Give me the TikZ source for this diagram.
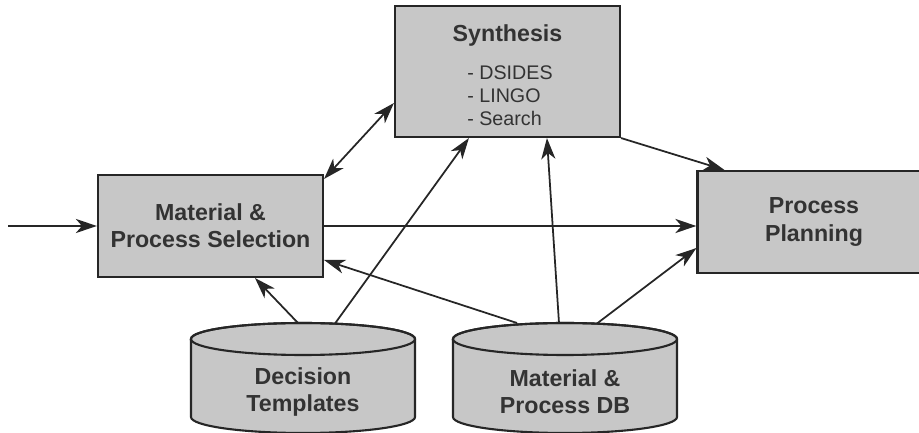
\documentclass[tikz,border=0pt]{standalone}
\usepackage{xcolor}
\usepackage{fontspec}
\setmainfont{Liberation Sans}
\usepackage{tikz}
\usetikzlibrary{positioning, calc, arrows.meta}
\definecolor{boxgray}{rgb}{0.78, 0.78, 0.78}

\begin{document}
\begin{tikzpicture}[every node/.style={transform shape}, >={Stealth[length=12pt, width=8pt, inset=3.5pt]}]
		\tikzstyle{blk}=[draw=black!85, line width=1.2pt, fill=boxgray, text=black!80, font=\bfseries\fontsize{13.2}{15.4}\selectfont, align=center]
		\tikzstyle{txt}=[text=black!80, font=\bfseries\fontsize{13.2}{15.4}\selectfont, align=center]
		\tikzstyle{cyl}=[draw=black!85, line width=1.2pt, fill=boxgray]
		\tikzstyle{lnk}=[draw=black!85, line width=1pt, ->]
		
		\useasboundingbox (0,0) rectangle (18.38,8.66);
		
		%%	boxes
		\node [blk, minimum width=4.5cm, minimum height=2.62cm] (Syn) at (10.15,7.23) {};
		\node [txt] (SynT) at (10.15,7.94) {Synthesis};
		\node [anchor=north west, inner sep=0pt, align=left, text=black!80, font=\fontsize{11.2}{13.3}\selectfont] (SynL) at (9.34,7.36) {- DSIDES\\- LINGO\\- Search};
		
		\node [blk, minimum width=4.5cm, minimum height=2.04cm] (Sel) at (4.21,4.14) {Material \&\\Process Selection};
		\node [blk, minimum width=4.66cm, minimum height=2.04cm] (Plan) at (16.28,4.22) {Process\\Planning};
		
		%%	data stores
		\foreach \cx in {6.06,11.3}
		{
		\filldraw [cyl] (\cx-2.24,1.88) -- (\cx-2.24,0.32) arc [start angle=180, end angle=360, x radius=2.24cm, y radius=0.32cm] -- (\cx+2.24,1.88) arc [start angle=0, end angle=180, x radius=2.24cm, y radius=0.32cm] -- cycle;
		\draw [cyl, fill=none] (\cx,1.88) ellipse [x radius=2.24cm, y radius=0.32cm];
		}
		\node [txt] (Tmpl) at (6.06,0.82) {Decision\\Templates};
		\node [txt] (DB) at (11.3,0.82) {Material \&\\Process DB};
		
		\coordinate (In) at (0.16,4.14);
		\coordinate (TmplA) at (5.96,2.2);
		\coordinate (TmplB) at (6.70,2.19);
		\coordinate (DBA) at (10.34,2.2);
		\coordinate (DBB) at (11.18,2.2);
		\coordinate (DBC) at (11.94,2.19);
		
		%%	links
		\draw [lnk] (In) -- (Sel.west);
		\draw [lnk] (Sel.east) -- (Sel.east -| Plan.west);
		\draw [lnk, <->] ([yshift=-0.1cm]Sel.north east) -- ([yshift=-0.63cm]Syn.west);
		\draw [lnk] (Syn.south east) -- ([xshift=0.56cm]Plan.north west);
		\draw [lnk] (TmplA) -- ([xshift=0.89cm]Sel.south);
		\draw [lnk] (TmplB) -- ([xshift=1.5cm]Syn.south west);
		\draw [lnk] (DBA) -- ([yshift=-0.68cm]Sel.east);
		\draw [lnk] (DBB) -- ([xshift=3.06cm]Syn.south west);
		\draw [lnk] (DBC) -- ([yshift=-0.52cm]Plan.west);
		
\end{tikzpicture}
\end{document}
